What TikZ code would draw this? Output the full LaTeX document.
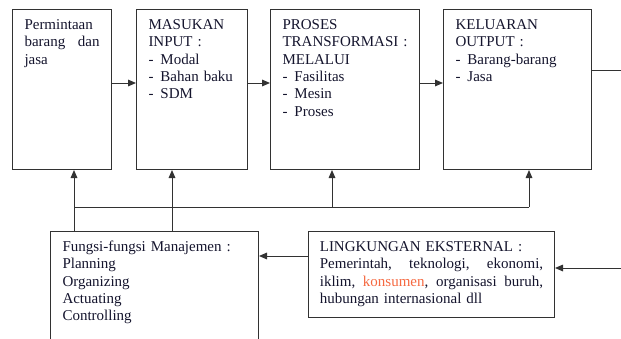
\documentclass[tikz,border=0pt]{standalone}
\usepackage{fontspec}
\setmainfont{Liberation Serif}
\usetikzlibrary{arrows.meta}
\usepackage{xcolor}
\definecolor{linegray}{RGB}{50,50,50}
\definecolor{textnavy}{RGB}{20,20,45}
\definecolor{konsorange}{RGB}{245,105,65}
\newcommand{\itm}[1]{\makebox[9pt][l]{-}#1}

\begin{document}
\begin{tikzpicture}[x=0.75pt, y=-0.75pt,
    box/.style={draw=linegray, line width=0.75pt, anchor=north west, align=left,
        inner xsep=9pt, inner ysep=7pt, text height=8pt, text=textnavy,
        font=\fontsize{11.25}{13}\selectfont},
    arr/.style={draw=linegray, line width=0.75pt, -{Triangle[length=6pt, width=5pt]}},
    plain/.style={draw=linegray, line width=0.75pt}]
    \clip (0,0) rectangle (621,339);

    % Main flow
    \node[box, text width=56.25pt, text depth=98pt] (dem) at (12,9)
        {Permintaan\\ barang \hfill dan\\ jasa};
    \node[box, text width=65.25pt, text depth=98pt] (inp) at (136,9)
        {MASUKAN\\ INPUT :\\ \itm{Modal}\\ \itm{Bahan baku}\\ \itm{SDM}};
    \node[box, text width=93.75pt, text depth=98pt] (pro) at (270,9)
        {PROSES\\ \mbox{TRANSFORMASI :}\\ MELALUI\\ \itm{Fasilitas}\\ \itm{Mesin}\\ \itm{Proses}};
    \node[box, text width=93pt, text depth=98pt] (out) at (443,9)
        {KELUARAN\\ OUTPUT :\\ \itm{Barang-barang}\\ \itm{Jasa}};

    % Lower boxes
    \node[box, text width=138pt, text depth=63.5pt] (fng) at (50,231)
        {Fungsi-fungsi Manajemen :\\ Planning\\ Organizing\\ Actuating\\ Controlling};
    \node[box, inner xsep=8.5pt, text width=167.5pt, text depth=42.5pt] (env) at (308,231)
        {LINGKUNGAN EKSTERNAL :\\
         Pemerintah, \hfill teknologi, \hfill ekonomi,\\
         iklim, \hfill {\color{konsorange}konsumen}, \hfill organisasi \hfill buruh,\\
         hubungan internasional dll};

    % Flow arrows
    \coordinate (flow) at (0,83);
    \draw[arr] (dem.east |- flow) -- (inp.west |- flow);
    \draw[arr] (inp.east |- flow) -- (pro.west |- flow);
    \draw[arr] (pro.east |- flow) -- (out.west |- flow);

    % Feedback bus
    \coordinate (busL) at (74,207);
    \coordinate (busR) at (529,207);
    \draw[plain] (busL) -- (busR);
    \draw[arr] (74,0 |- fng.north) -- (74,0 |- dem.south);
    \draw[arr] (172,0 |- fng.north) -- (172,0 |- inp.south);
    \draw[arr] (332,0 |- busL) -- (332,0 |- pro.south);
    \draw[arr] (busR) -- (529,0 |- out.south);

    % Environment links
    \coordinate (rtop) at (621,70);
    \coordinate (rbot) at (621,268);
    \draw[plain] (out.east |- rtop) -- (rtop);
    \draw[arr] (rbot) -- (env.east |- rbot);
    \draw[arr] (env.west |- 0,256) -- (fng.east |- 0,256);

\end{tikzpicture}
\end{document}
